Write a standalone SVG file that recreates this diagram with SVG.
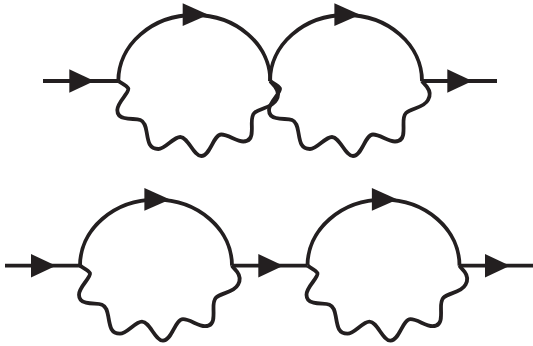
<svg xmlns="http://www.w3.org/2000/svg" width="533" height="346" viewBox="0 0 533 346">
<style>
.l{fill:none;stroke:#231f20;stroke-width:3.8;stroke-linejoin:round}
.a{fill:#231f20;stroke:none}
</style>
<defs>
<g id="loop">
<path class="l" d="M0 0A76 66 0 0 1 152 0"/>
<path class="l" d="M0 0C3 2 9 5 10 7.500C11 12 -1 21 -1 29C-1 33 1 36 6 37C12 38.500 18 37.500 22 39C27 41 27.500 47 28.500 52C30 61 31 68 40 68C47 68 55 56 62 56C70 56 75 75 83 75C92 75 95 53.500 103 53.500C110 53.500 118 60.500 125 60.500C132 60.500 133.500 55 133.500 50C134 43 132 36 136 32C141 27 154 27 158 19C161 14 160 10 157 6C155 3 153 2 152 0"/>
<polygon class="a" points="64.400,-77.700 64.400,-55 90,-66.300"/>
</g>
<polygon id="tip" class="a" points="0,-11.700 0,11.700 25,0"/>
</defs>
<g id="connectors">
<path class="l" d="M43 81H118.300M422.300 81H497M5 265.700H80M232 265.700H307M459 265.700H533"/>
<use href="#tip" x="69.300" y="81"/>
<use href="#tip" x="447.300" y="81"/>
<use href="#tip" x="31" y="265.700"/>
<use href="#tip" x="258.300" y="265.700"/>
<use href="#tip" x="485" y="265.700"/>
</g>
<g id="loop-top-left"><use href="#loop" x="118.300" y="81"/></g>
<g id="loop-top-right"><use href="#loop" x="270" y="81"/></g>
<g id="loop-bottom-left"><use href="#loop" x="80" y="265.700"/></g>
<g id="loop-bottom-right"><use href="#loop" x="307.500" y="265.700"/></g>
</svg>
